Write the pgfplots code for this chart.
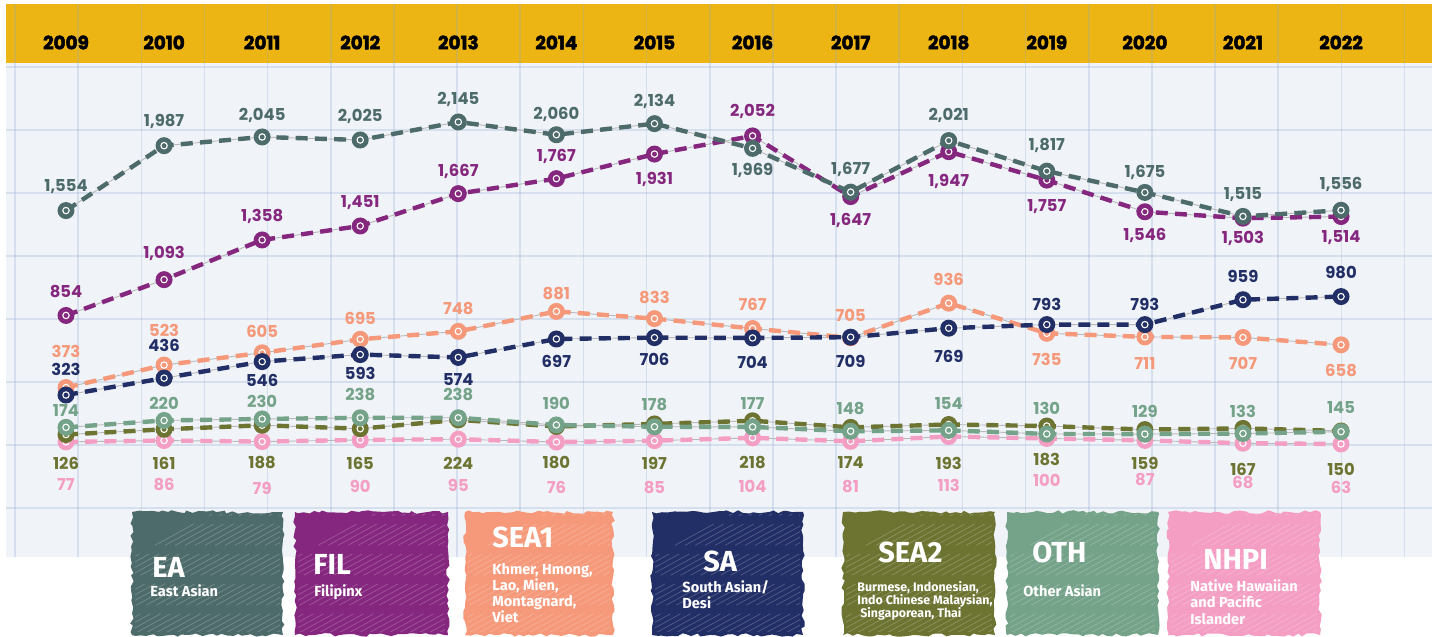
\documentclass[border=0pt]{standalone}
\usepackage{pgfplots}
\pgfplotsset{compat=1.18}
\usepackage{pgfplotstable}
\usepackage{fontspec}
\setmainfont{Fira Sans}
\newfontfamily\pop{Poppins}
\newfontfamily\popyear{Poppins}[BoldFeatures={FakeBold=2.5}]
\usetikzlibrary{decorations.pathmorphing}

\definecolor{cEA}{HTML}{4E6B6B}
\definecolor{cFIL}{HTML}{85277E}
\definecolor{cSEA1}{HTML}{F5997A}
\definecolor{cSA}{HTML}{222F66}
\definecolor{cSEA2}{HTML}{6D7432}
\definecolor{cOTH}{HTML}{74A389}
\definecolor{cNHPI}{HTML}{F49EC4}
\definecolor{cband}{HTML}{ECB514}
\definecolor{cgrid}{HTML}{F0F3F8}
\definecolor{cline}{HTML}{8AA6D2}

\pgfdeclareplotmark{ring}{%
  \pgfpathcircle{\pgfpointorigin}{4.25pt}\pgfusepathqfill
  \pgfsetstrokecolor{white}\pgfsetlinewidth{0.55pt}%
  \pgfpathcircle{\pgfpointorigin}{1.6pt}\pgfusepathqstroke}

\pgfplotsset{
  ser/.style={color=#1, line width=2.2pt, dash pattern=on 6pt off 3.6pt,
    mark=ring, mark options={solid, fill=#1},
    nodes near coords, point meta=explicit,
    visualization depends on={\thisrow{off} \as \myoff},
    every node near coord/.style={anchor=center, yshift=\myoff*0.5pt,
      font=\pop\bfseries\fontsize{8.2}{9}\selectfont, text=#1, inner sep=0pt}},
  thinline/.style={gray!55, line width=0.45pt, forget plot},
}

% x = year, y = value, off = label offset in px (positive: above the point)
\pgfplotstableread{
x y off
2009 1554 24
2010 1987 24
2011 2045 22
2012 2025 24
2013 2145 23
2014 2060 20
2015 2134 22
2016 1969 -22
2017 1677 23
2018 2021 25
2019 1817 26
2020 1675 20
2021 1515 22
2022 1556 26
}\tEA
\pgfplotstableread{
x y off
2009 854 24
2010 1093 26
2011 1358 23
2012 1451 23
2013 1667 22
2014 1767 22
2015 1931 -25
2016 2052 24
2017 1647 -24
2018 1947 -30
2019 1757 -26
2020 1546 -24
2021 1503 -20
2022 1514 -21
}\tFIL
\pgfplotstableread{
x y off
2009 373 36
2010 523 35
2011 605 21
2012 695 21
2013 748 23
2014 881 18
2015 833 21
2016 767 24
2017 705 22
2018 936 24
2019 735 -26
2020 711 -27
2021 707 -26
2022 658 -26
}\tSEAone
\pgfplotstableread{
x y off
2009 323 26
2010 436 33
2011 546 -19
2012 593 -19
2013 574 -22
2014 697 -22
2015 706 -22
2016 704 -24
2017 709 -24
2018 769 -28
2019 793 20
2020 793 20
2021 959 23
2022 980 24
}\tSA
\pgfplotstableread{
x y off
2009 126 -28.4
2010 161 -33.7
2011 188 -37.7
2012 165 -34.3
2013 224 -43.1
2014 180 -36.5
2015 197 -39.1
2016 218 -42.2
2017 174 -35.6
2018 193 -38.5
2019 183 -33
2020 159 -33.4
2021 167 -40.6
2022 150 -38
}\tSEAtwo
\pgfplotstableread{
x y off
2009 174 17
2010 220 17
2011 230 18
2012 238 23
2013 238 23
2014 190 22
2015 178 22
2016 177 23
2017 148 23
2018 154 27
2019 130 26
2020 129 23
2021 133 22
2022 145 24
}\tOTH
\pgfplotstableread{
x y off
2009 77 -43.1
2010 86 -44.4
2011 79 -46.4
2012 90 -46
2013 95 -45.8
2014 76 -44.9
2015 85 -47.3
2016 104 -48.1
2017 81 -45.7
2018 113 -48.5
2019 100 -41.5
2020 87 -39.6
2021 68 -39.7
2022 63 -43
}\tNHPI

\newcommand\legbox[5]{%
  \fill[#5, decorate, decoration={random steps, segment length=2.5pt, amplitude=0.9pt}] (#1,#2) rectangle (#3,#4);
  \begin{scope}
    \clip (#1+3,#2+3) rectangle (#3-3,#4-3);
    \foreach \k in {0,...,28} {\draw[white, opacity=0.22, line width=0.35pt, dash pattern=on 22pt off 9pt] ({#1-140+\k*10},{#4}) -- ++(280,-154);}
  \end{scope}}
\newcommand\legtitle[3]{\node[anchor=base west, inner sep=0pt, text=white, font=\bfseries\fontsize{14.5}{15}\selectfont] at (#1,#2) {#3};}
\newcommand\legsub[3]{\node[anchor=base west, inner sep=0pt, text=white, font=\bfseries\fontsize{7.3}{8}\selectfont] at (#1,#2) {#3};}
\newcommand\legsmall[3]{\node[anchor=base west, inner sep=0pt, text=white, font=\bfseries\fontsize{6.2}{7}\selectfont] at (#1,#2) {#3};}

\begin{document}
\begin{tikzpicture}
\begin{scope}[shift={(0pt,318.5pt)},x=0.5pt,y=-0.5pt]
  \fill[white] (0,0) rectangle (1437,637);
  \fill[cgrid] (6,63) rectangle (1432,557);
  \fill[cband] (6,4) rectangle (1432,63);
  \foreach \k in {0,...,22} {\draw[cline, opacity=0.25, line width=0.8pt] ({15+63.16*\k},4) -- ({15+63.16*\k},557);}
  \foreach \k in {0,...,7} {\draw[cline, opacity=0.25, line width=0.8pt] (6,{67+63*\k}) -- (1432,{67+63*\k});}
  \foreach \k in {0,...,13} {\pgfmathtruncatemacro\yr{2009+\k}%
    \node[font=\popyear\bfseries\fontsize{9.2}{10}\selectfont, text=black] at ({66+98.08*\k},42.5) {\yr};}
\end{scope}

\begin{axis}[at={(0pt,0pt)}, anchor=south west, scale only axis,
  width=718.5pt, height=318.5pt,
  xmin=2008.3271, xmax=2022.9785, ymin=-1224.9, ymax=2959.1,
  y coord trafo/.code={\pgfmathparse{#1-66.7*min(1,max(0,(300-#1)/50))}},
  y coord inv trafo/.code={\pgfmathparse{ifthenelse(#1<183.3,#1+66.7,ifthenelse(#1<300,(#1+400.2)/2.334,#1))}},
  hide axis, clip=false,
  /pgf/number format/fixed, /pgf/number format/precision=0,
  /pgf/number format/1000 sep={,}, /pgf/number format/assume math mode=true]
  \addplot[thinline] table[x=x,y=y]{\tNHPI};
  \addplot[thinline] table[x=x,y=y]{\tSEAtwo};
  \addplot[thinline] table[x=x,y=y]{\tOTH};
  \addplot[thinline] table[x=x,y=y]{\tSEAone};
  \addplot[thinline] table[x=x,y=y]{\tSA};
  \addplot[thinline] table[x=x,y=y]{\tFIL};
  \addplot[thinline] table[x=x,y=y]{\tEA};
  \addplot[ser=cNHPI] table[x=x,y=y,meta=y]{\tNHPI};
  \addplot[ser=cSEA2] table[x=x,y=y,meta=y]{\tSEAtwo};
  \addplot[ser=cOTH] table[x=x,y=y,meta=y]{\tOTH};
  \addplot[ser=cSEA1] table[x=x,y=y,meta=y]{\tSEAone};
  \addplot[ser=cSA] table[x=x,y=y,meta=y]{\tSA};
  \addplot[ser=cFIL] table[x=x,y=y,meta=y]{\tFIL};
  \addplot[ser=cEA] table[x=x,y=y,meta=y]{\tEA};
\end{axis}

\begin{scope}[shift={(0pt,318.5pt)},x=0.5pt,y=-0.5pt]
  \legbox{132}{512}{283}{635}{cEA}
  \legtitle{152}{578}{EA}
  \legsub{150}{597}{East Asian}
  \legbox{295}{512}{448}{635}{cFIL}
  \legtitle{313}{575}{FIL}
  \legsub{314}{597}{Filipinx}
  \legbox{465}{512}{613}{635}{cSEA1}
  \legtitle{492}{548}{SEA1}
  \legsub{492}{575}{Khmer, Hmong,}
  \legsub{492}{591}{Lao, Mien,}
  \legsub{492}{607}{Montagnard,}
  \legsub{492}{623}{Viet}
  \legbox{652}{512}{803}{635}{cSA}
  \legtitle{703}{572}{SA}
  \legsub{682}{593}{South Asian/}
  \legsub{682}{609}{Desi}
  \legbox{843}{512}{995}{635}{cSEA2}
  \legtitle{878}{563}{SEA2}
  \legsmall{857}{592}{Burmese, Indonesian,}
  \legsmall{857}{605}{Indo Chinese Malaysian,}
  \legsmall{860}{618}{Singaporean, Thai}
  \legbox{1007}{512}{1158}{635}{cOTH}
  \legtitle{1032}{563}{OTH}
  \legsub{1023}{597}{Other Asian}
  \legbox{1168}{512}{1320}{635}{cNHPI}
  \legtitle{1203}{570}{NHPI}
  \legsub{1190}{592}{Native Hawaiian}
  \legsub{1190}{608}{and Pacific}
  \legsub{1190}{625}{Islander}
\end{scope}
\end{tikzpicture}
\end{document}
